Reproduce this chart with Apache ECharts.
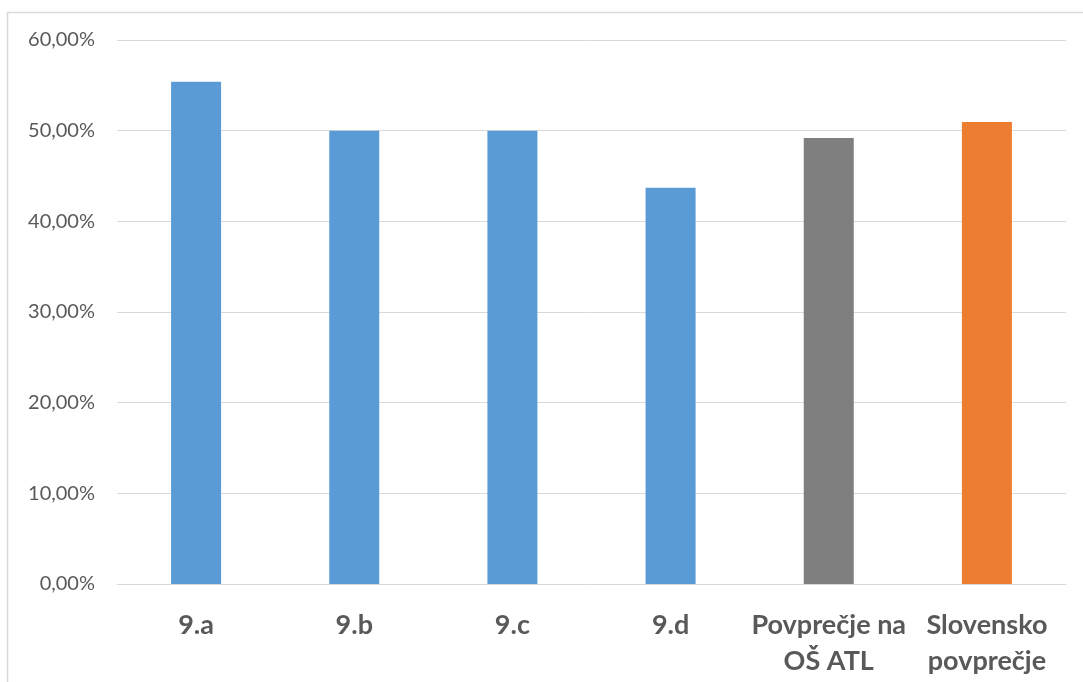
<!DOCTYPE html>
<html>
<head>
<meta charset="utf-8">
<script src="https://cdn.jsdelivr.net/npm/echarts@6/dist/echarts.min.js"></script>
<style>
html,body{margin:0;padding:0;background:#fff;}
#main{width:1083px;height:682px;}
</style>
</head>
<body>
<div id="main"></div>
<script>
const categories = ['9.a', '9.b', '9.c', '9.d', 'Povprečje na\nOŠ ATL', 'Slovensko\npovprečje'];
const values = [55.4, 50.0, 50.0, 43.7, 49.2, 50.95];
const barColors = ['#5b9bd5', '#5b9bd5', '#5b9bd5', '#5b9bd5', '#7f7f7f', '#ed7d31'];
const yTicks = [0, 10, 20, 30, 40, 50, 60];

const chart = echarts.init(document.getElementById('main'));
chart.setOption({
  animation: false,
  backgroundColor: '#fff',
  graphic: [{
    type: 'rect',
    shape: { x: 7.5, y: 12.5, width: 1100, height: 700 },
    style: { fill: 'none', stroke: '#d9d9d9', lineWidth: 1.5 },
    silent: true
  }],
  grid: { left: 117, right: 17, top: 40, bottom: 98 },
  xAxis: {
    type: 'category',
    data: categories,
    axisLine: { lineStyle: { color: '#d9d9d9' } },
    axisTick: { show: false },
    axisLabel: {
      interval: 0,
      margin: 23,
      color: '#595959',
      fontFamily: 'Lato',
      fontWeight: 'bold',
      fontSize: 27,
      lineHeight: 36
    }
  },
  yAxis: {
    type: 'value',
    min: yTicks[0],
    max: yTicks[yTicks.length - 1],
    interval: 10,
    axisLine: { show: false },
    axisTick: { show: false },
    splitLine: { lineStyle: { color: '#d9d9d9', width: 1 } },
    axisLabel: {
      margin: 22,
      color: '#595959',
      fontFamily: 'Lato',
      fontSize: 20,
      formatter: v => v.toFixed(2).replace('.', ',') + '%'
    }
  },
  series: [{
    type: 'bar',
    barWidth: 50,
    data: values.map((v, i) => ({ value: v, itemStyle: { color: barColors[i] } }))
  }]
});
</script>
</body>
</html>
